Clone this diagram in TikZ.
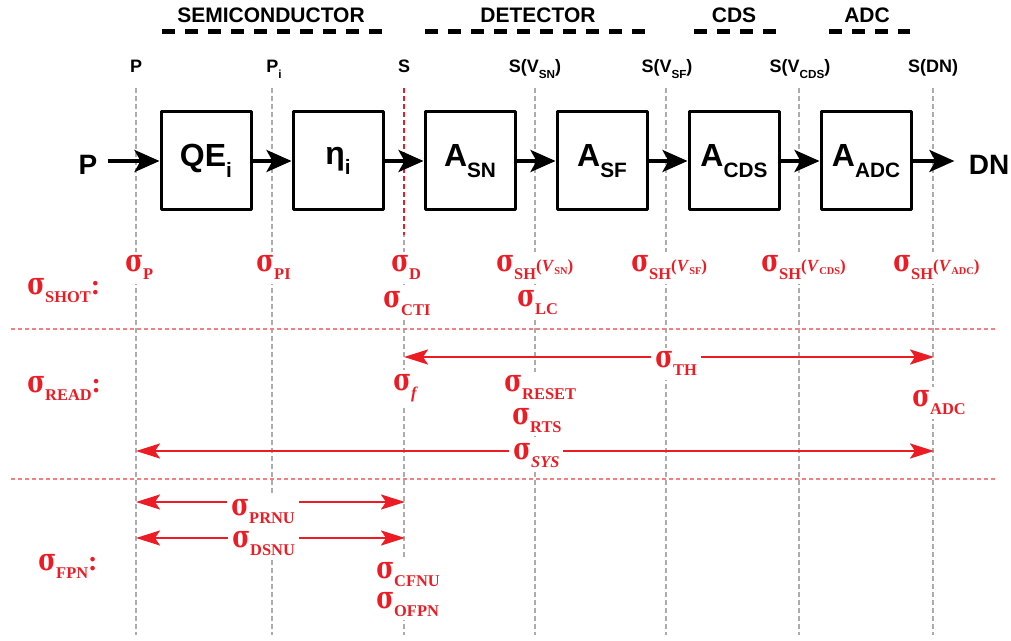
\documentclass[tikz,border=0pt]{standalone}
\usepackage{fontspec}
\setmainfont{Liberation Sans}
\newfontfamily\sigfont{Liberation Serif}
\newfontfamily\sigmafont{DejaVu Serif}
\usetikzlibrary{arrows.meta}
\definecolor{noisered}{RGB}{237,28,36}
\definecolor{seplight}{RGB}{242,128,128}
\definecolor{guidegray}{RGB}{172,172,172}
\newcommand{\sbs}[1]{\raisebox{-.33em}{\scalebox{.65}{#1}}}
\newcommand{\sgm}{\scalebox{.78}[1]{\sigmafont\fontsize{15.5}{16}\selectfont σ}}
\newcommand{\rsub}[1]{\raisebox{-4pt}{\fontsize{8.2}{10}\selectfont #1}}
\newcommand{\sg}[1]{\sgm\rsub{#1}}
\newcommand{\vsub}[1]{{\fontsize{8.5}{9}\selectfont(\textit{V}\raisebox{-1.5pt}{\fontsize{5.2}{6}\selectfont #1})}}
\tikzset{
  blk/.style={draw, fill=white, line width=1.5pt, minimum width=45pt, minimum height=49pt, font=\bfseries\fontsize{16}{18}\selectfont},
  hdash/.style={line width=2.5pt, dash pattern=on 6.5pt off 5pt},
  vline/.style={guidegray, line width=1pt, dash pattern=on 2.5pt off 1.5pt},
  sepline/.style={seplight, line width=.8pt, dash pattern=on 2pt off 1.5pt},
  sigarr/.style={-{Stealth[length=12.5pt,width=11pt,inset=3pt]}, line width=1.8pt},
  redarr/.style={{Stealth[length=12pt,width=7.5pt,inset=2.5pt]}-{Stealth[length=12pt,width=7.5pt,inset=2.5pt]}, line width=1.2pt, noisered},
  siglab/.style={anchor=base west, fill=white, inner sep=2pt, text=noisered, font=\sigfont\bfseries\fontsize{14}{16}\selectfont},
  sglab/.style={anchor=base, font=\bfseries\fontsize{9}{11}\selectfont}
}
\begin{document}
\begin{tikzpicture}[x=.5pt, y=-.5pt, line join=round, font=\bfseries]
	\useasboundingbox (0,0) rectangle (1011,641);
	% stage headers
	\node[font=\bfseries\fontsize{10.5}{12}\selectfont] (semi) at (271,15) {SEMICONDUCTOR};
	\node[font=\bfseries\fontsize{10.5}{12}\selectfont] (det) at (538,15) {DETECTOR};
	\node[font=\bfseries\fontsize{10.5}{12}\selectfont] (cds) at (734,15) {CDS};
	\node[font=\bfseries\fontsize{10.5}{12}\selectfont] (adc) at (867,15) {ADC};
	\draw[hdash] (162,32) -- (383,32) (425,32) -- (647,32) (694,32) -- (776,32) (829,32) -- (910,32);
	% signal names
	\node[sglab] (lp) at (136,73) {P};
	\node[sglab] (lpi) at (274,73) {P\sbs{i}};
	\node[sglab] (ls) at (404,73) {S};
	\node[sglab] (lvsn) at (535,73) {S(V\sbs{SN})};
	\node[sglab] (lvsf) at (667,73) {S(V\sbs{SF})};
	\node[sglab] (lvcds) at (800,73) {S(V\sbs{CDS})};
	\node[sglab] (ldn) at (933,73) {S(DN)};
	% guide lines
	\foreach \x in {136,272,404,535,666,799,933}
		\draw[vline] (\x,88) -- (\x,635);
	\draw[vline, noisered] (404,88) -- (404,235);
	\draw[sepline] (11,329) -- (997,329) (11,479) -- (997,479);
	% signal chain
	\node[blk] (qe) at (206,161) {QE\sbs{i}};
	\node[blk] (eta) at (338,161) {η\sbs{i}};
	\node[blk] (asn) at (470,161) {A\sbs{SN}};
	\node[blk] (asf) at (602,161) {A\sbs{SF}};
	\node[blk] (acds) at (734,161) {A\sbs{CDS}};
	\node[blk] (aadc) at (866,161) {A\sbs{ADC}};
	\node[font=\bfseries\fontsize{14}{16}\selectfont, inner sep=5pt] (pin) at (88,165) {P};
	\node[font=\bfseries\fontsize{14}{16}\selectfont, inner sep=7pt] (dn) at (989,165) {DN};
	\draw[sigarr] (pin.east |- qe.west) -- (qe.west);
	\draw[sigarr] (qe) -- (eta);
	\draw[sigarr] (eta) -- (asn);
	\draw[sigarr] (asn) -- (asf);
	\draw[sigarr] (asf) -- (acds);
	\draw[sigarr] (acds) -- (aadc);
	\draw[sigarr] (aadc.east) -- (dn.west |- aadc.east);
	% noise spans
	\coordinate (thl) at (404,357); \coordinate (thr) at (934,357);
	\coordinate (sysl) at (136,451); \coordinate (sysr) at (934,451);
	\coordinate (prl) at (136,502); \coordinate (prr) at (405,502);
	\coordinate (dsl) at (136,538); \coordinate (dsr) at (405,538);
	\draw[redarr] (thl) -- (thr);
	\draw[redarr] (sysl) -- (sysr);
	\draw[redarr] (prl) -- (prr);
	\draw[redarr] (dsl) -- (dsr);
	% shot noise
	\node[siglab] (shot) at (23,295) {\sg{SHOT}:};
	\node[siglab] (sp) at (121,272) {\sg{P}};
	\node[siglab] (spi) at (252,272) {\sg{PI}};
	\node[siglab] (sd) at (387,272) {\sg{D}};
	\node[siglab] (scti) at (379,308) {\sg{CTI}};
	\node[siglab] (shsn) at (492,272) {\sg{SH}\vsub{SN}};
	\node[siglab] (shsf) at (627,272) {\sg{SH}\vsub{SF}};
	\node[siglab] (shcds) at (757,272) {\sg{SH}\vsub{CDS}};
	\node[siglab] (shadc) at (889,272) {\sg{SH}\vsub{ADC}};
	\node[siglab] (slc) at (513,307) {\sg{LC}};
	% read noise
	\node[siglab] (read) at (23,393) {\sg{READ}:};
	\node[siglab] (sf) at (389,390) {\sg{\textit{f}}};
	\node[siglab] (sth) at (651,368) {\sg{TH}};
	\node[siglab] (sreset) at (500,392) {\sg{RESET}};
	\node[siglab] (srts) at (508,424) {\sg{RTS}};
	\node[siglab] (sadc) at (908,407) {\sg{ADC}};
	\node[siglab] (ssys) at (509,459) {\sg{\textit{SYS}}};
	% fixed pattern noise
	\node[siglab] (fpn) at (34,570) {\sg{FPN}:};
	\node[siglab] (sprnu) at (227,515) {\sg{PRNU}};
	\node[siglab] (sdsnu) at (228,547) {\sg{DSNU}};
	\node[siglab] (scfnu) at (372,578) {\sg{CFNU}};
	\node[siglab] (sofpn) at (372,608) {\sg{OFPN}};
\end{tikzpicture}
\end{document}
